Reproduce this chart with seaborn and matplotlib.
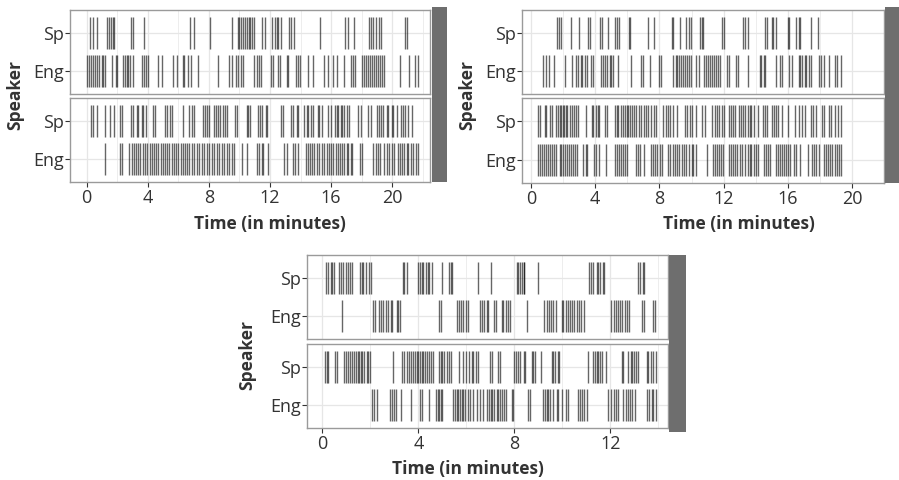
import numpy as np
import pandas as pd
import matplotlib
matplotlib.use("Agg")
import matplotlib.pyplot as plt
import seaborn as sns
from matplotlib.patches import Rectangle

sns.set_theme(style="white")
plt.rcParams["font.family"] = ["Open Sans", "DejaVu Sans"]

# ---------------- data (event times, minutes) ----------------
speakers = ["Sp", "Eng"]
x_label = "Time (in minutes)"
y_label = "Speaker"
ticks_1 = [0, 4, 8, 12, 16, 20]
ticks_2 = [0, 4, 8, 12, 16, 20]
ticks_3 = [0, 4, 8, 12]

s1_top_sp = [0.25, 0.4, 0.65, 1.35, 1.47, 1.6, 1.7, 1.8, 2.88, 3.05, 3.77, 6.75, 7.0, 8.1, 9.5, 9.9, 10.0, 10.1,
             10.2, 10.35, 10.5, 10.6, 10.7, 10.85, 10.95, 11.5, 11.7, 12.15, 12.3, 12.45, 12.55, 12.75, 13.25,
             13.4, 13.6, 15.3, 16.9, 17.1, 17.5, 18.45, 18.6, 18.75, 18.95, 19.1, 19.25, 20.85, 20.95]
s1_top_eng = [0.05, 0.17, 0.3, 0.43, 0.56, 0.7, 0.83, 0.98, 1.1, 1.22, 1.63, 1.9, 2.0, 2.4, 2.5, 2.62, 2.72, 2.83,
              3.05, 3.6, 3.75, 3.88, 4.03, 4.7, 4.9, 5.67, 5.9, 6.28, 6.4, 6.65, 6.8, 7.3, 8.6, 9.32, 9.5, 9.8,
              9.92, 10.08, 10.25, 10.97, 11.12, 11.28, 11.4, 12.06, 12.22, 12.54, 12.65, 13.1, 13.2, 13.68, 13.85,
              13.96, 14.5, 14.83, 15.53, 15.77, 16.14, 16.36, 16.86, 17.3, 17.45, 17.56, 18.04, 18.17, 18.3, 18.43,
              18.56, 18.69, 18.83, 18.96, 19.09, 19.22, 19.35, 19.48, 20.5, 21.12, 21.5, 21.7]
s1_bot_sp = [0.26, 0.39, 0.65, 1.2, 1.52, 1.79, 2.18, 2.29, 2.9, 3.05, 3.27, 3.38, 3.6, 3.71, 3.88, 4.36, 4.47,
             5.12, 5.28, 5.45, 5.58, 6.28, 6.72, 6.87, 7.02, 7.59, 7.74, 7.85, 8.03, 8.33, 8.46, 8.62, 8.72, 8.9,
             9.05, 9.2, 9.7, 9.81, 10.47, 10.58, 10.69, 11.19, 11.34, 11.49, 11.71, 11.82, 12.72, 12.87, 13.37,
             13.52, 13.74, 13.85, 14.24, 14.4, 14.5, 14.68, 14.83, 15.12, 15.2, 15.38, 15.81, 15.99, 16.25, 16.36,
             16.47, 16.64, 16.73, 16.86, 17.01, 17.17, 17.78, 17.95, 18.43, 18.61, 18.98, 19.13, 19.26, 19.41,
             19.63, 19.74, 19.96, 20.07, 20.29, 20.57, 20.72, 20.83, 21.05, 21.27]
s1_bot_eng = [1.2, 2.18, 2.29, 2.79, 2.94, 3.09, 3.22, 3.38, 3.49, 3.66, 3.82, 3.97, 4.14, 4.25, 4.4, 4.54, 4.69,
              4.84, 4.97, 5.12, 5.28, 5.41, 5.56, 5.71, 5.84, 6.0, 6.15, 6.28, 6.43, 6.59, 6.72, 6.87, 7.02, 7.2,
              7.37, 7.52, 7.68, 7.85, 8.03, 8.18, 8.33, 8.51, 8.68, 8.83, 8.99, 9.16, 9.33, 9.49, 9.64, 10.14,
              10.47, 11.12, 11.28, 11.45, 11.56, 11.84, 12.93, 13.09, 13.52, 13.63, 13.81, 14.33, 14.46, 14.61,
              14.72, 14.9, 15.05, 15.2, 15.42, 15.55, 15.7, 15.86, 15.99, 16.14, 16.29, 16.42, 16.58, 16.73,
              16.86, 17.01, 17.12, 17.3, 17.38, 17.89, 18.04, 18.76, 18.91, 19.04, 19.2, 19.48, 19.63, 19.78,
              19.96, 20.13, 20.35, 20.5, 20.66, 20.79, 20.94, 21.05, 21.22, 21.38, 21.53, 21.66]

s2_top_sp = [1.62, 1.74, 1.87, 2.5, 3.01, 3.53, 3.64, 4.29, 4.4, 4.82, 5.2, 5.35, 5.49, 6.12, 6.19, 7.26, 7.64,
             8.78, 8.86, 9.3, 9.68, 9.87, 9.96, 10.53, 10.63, 10.72, 11.9, 12.02, 13.2, 13.35, 13.54, 14.57,
             14.72, 15.0, 15.1, 15.26, 16.02, 16.09, 16.53, 16.67, 16.78, 17.43, 17.87]
s2_top_eng = [0.73, 0.92, 1.11, 1.43, 2.12, 2.57, 2.82, 2.95, 3.11, 3.2, 3.34, 3.49, 3.72, 3.87, 4.34, 4.48, 4.59,
              4.72, 4.91, 5.01, 5.11, 5.43, 6.25, 6.82, 6.96, 7.39, 7.97, 8.1, 8.86, 9.01, 9.11, 9.2, 9.35, 9.49,
              9.58, 9.74, 9.87, 9.96, 10.25, 10.44, 10.76, 10.88, 11.01, 11.14, 11.26, 11.39, 11.53, 11.64, 11.77,
              12.21, 12.34, 12.78, 12.92, 13.49, 14.25, 14.35, 14.5, 14.57, 15.26, 15.49, 15.64, 16.09, 16.25,
              16.67, 16.78, 16.91, 17.05, 17.16, 17.3, 17.43, 17.93, 18.06, 18.25, 18.54, 18.92, 19.07, 19.33]
s2_bot_sp = [0.44, 0.54, 0.86, 0.92, 1.2, 1.3, 1.58, 1.68, 1.77, 1.87, 1.96, 2.06, 2.15, 2.25, 2.44, 2.53, 2.69,
             2.82, 2.95, 3.45, 3.77, 3.87, 4.02, 4.15, 4.25, 4.63, 4.72, 5.24, 5.35, 5.43, 5.58, 5.73, 5.87, 5.96,
             6.06, 6.19, 6.31, 6.44, 6.53, 6.72, 6.82, 7.01, 7.14, 7.3, 7.49, 7.64, 7.77, 8.25, 8.4, 8.53, 8.63,
             8.82, 9.11, 9.58, 9.74, 9.93, 10.06, 10.25, 10.63, 10.82, 11.3, 11.45, 11.58, 11.71, 11.87, 12.02,
             12.34, 12.44, 12.59, 12.72, 12.97, 13.11, 13.24, 13.35, 13.49, 13.62, 13.73, 13.87, 14.15, 14.44,
             14.57, 14.72, 15.0, 15.14, 15.29, 15.39, 15.64, 16.02, 16.48, 16.67, 16.86, 17.05, 17.43, 17.58,
             17.73, 18.12, 18.25, 18.54, 18.69, 18.92, 19.11, 19.33]
s2_bot_eng = [0.44, 0.55, 0.67, 0.78, 0.92, 1.05, 1.16, 1.3, 1.43, 1.55, 1.77, 1.89, 2.0, 2.12, 2.25, 2.38, 2.5,
              2.63, 2.76, 2.88, 3.26, 3.39, 3.49, 3.91, 4.02, 4.21, 4.67, 5.24, 5.35, 5.49, 5.62, 5.73, 5.87, 5.96,
              6.53, 6.65, 6.76, 7.01, 7.45, 7.58, 7.72, 7.87, 8.02, 8.15, 8.53, 8.67, 8.82, 8.97, 9.11, 9.24, 9.39,
              9.55, 9.68, 9.87, 10.0, 10.12, 10.25, 10.95, 11.33, 11.45, 11.58, 11.71, 11.83, 11.96, 12.34, 12.48,
              12.59, 12.72, 12.86, 13.01, 13.16, 13.35, 13.49, 13.62, 13.73, 13.87, 14.0, 14.15, 14.5, 14.63,
              14.76, 14.91, 15.29, 15.39, 15.52, 15.64, 15.77, 15.91, 16.02, 16.15, 16.4, 16.53, 16.78, 17.24,
              17.49, 17.62, 17.77, 17.93, 18.25, 18.38, 18.5, 18.63, 18.77, 18.92, 19.07, 19.2, 19.33]

s3_top_sp = [0.14, 0.22, 0.36, 0.42, 0.5, 0.7, 0.78, 0.84, 0.97, 1.06, 1.15, 1.22, 1.57, 1.64, 1.71, 1.81, 1.95,
             2.03, 3.34, 3.42, 3.52, 4.0, 4.07, 4.14, 4.21, 4.31, 4.39, 4.45, 4.56, 4.97, 5.28, 5.36, 5.42, 6.47,
             7.04, 8.1, 8.17, 8.24, 8.31, 8.38, 8.42, 8.97, 11.11, 11.19, 11.29, 11.43, 11.5, 11.57, 11.71, 11.75,
             13.14, 13.24, 13.34, 13.42]
s3_top_eng = [0.81, 2.13, 2.2, 2.36, 2.45, 2.54, 2.64, 2.72, 2.86, 2.92, 3.1, 3.17, 3.24, 4.86, 4.95, 5.6, 5.7,
              5.78, 5.88, 5.97, 6.06, 6.57, 6.64, 6.75, 6.85, 6.92, 7.17, 7.22, 7.47, 7.54, 7.64, 7.75, 7.82, 8.51,
              9.25, 9.35, 9.45, 9.53, 9.62, 9.72, 9.97, 10.04, 10.14, 10.22, 10.32, 10.42, 10.5, 10.6, 10.7, 10.78,
              10.88, 12.03, 12.13, 12.22, 12.31, 12.4, 12.5, 12.61, 12.68, 12.78, 13.3, 13.42, 13.79, 13.86]
s3_bot_sp = [0.09, 0.18, 0.25, 0.53, 0.6, 0.92, 0.97, 1.06, 1.15, 1.22, 1.33, 1.39, 1.47, 1.53, 1.61, 1.67, 1.75,
             1.85, 1.92, 1.99, 2.96, 3.33, 3.42, 3.52, 3.61, 3.7, 3.79, 3.86, 3.93, 4.0, 4.07, 4.14, 4.21, 4.28,
             4.35, 4.45, 4.53, 4.63, 4.86, 4.95, 5.0, 5.08, 5.18, 5.28, 5.36, 5.7, 5.88, 5.97, 6.11, 6.22, 6.29,
             6.39, 6.47, 6.99, 7.08, 7.33, 7.4, 8.0, 8.06, 8.17, 8.24, 8.38, 8.45, 8.72, 8.79, 8.86, 9.11, 9.56,
             9.62, 9.69, 9.81, 9.86, 11.06, 11.29, 11.36, 11.43, 11.5, 11.57, 11.64, 11.81, 12.47, 12.54, 12.75,
             12.86, 12.92, 13.0, 13.06, 13.14, 13.52, 13.58, 13.7, 13.79, 13.89]
s3_bot_eng = [2.08, 2.17, 2.27, 2.82, 2.92, 3.0, 3.06, 3.28, 3.7, 4.07, 4.17, 4.45, 4.72, 4.81, 4.86, 4.95, 5.0,
              5.46, 5.53, 5.6, 5.67, 5.74, 5.81, 5.88, 5.95, 6.06, 6.15, 6.29, 6.43, 6.57, 6.71, 6.85, 6.94, 7.03,
              7.08, 7.17, 7.26, 7.33, 7.4, 7.5, 7.58, 7.64, 7.89, 7.96, 8.58, 8.65, 9.21, 9.28, 9.35, 9.42, 9.49,
              9.62, 9.76, 9.83, 9.97, 10.14, 10.22, 10.64, 10.74, 10.83, 10.92, 11.01, 11.92, 12.03, 12.13, 12.22,
              12.31, 12.54, 12.64, 12.72, 12.82, 12.89, 13.03, 13.52, 13.61, 13.72, 13.79, 13.89]

# ---------------- layout (pixels) ----------------
W, H = 899, 480
fig = plt.figure(figsize=(W / 100, H / 100), dpi=100)

TXT = "#333333"
GRID = "#e6e6e6"
FRAME = "#9a9a9a"
STRIP = "#6e6e6e"


def px_axes(x0, y0, x1, y1):
    return fig.add_axes([x0 / W, 1 - y1 / H, (x1 - x0) / W, (y1 - y0) / H])


panels = [
    dict(facets=[(s1_top_sp, s1_top_eng), (s1_bot_sp, s1_bot_eng)], x=(70, 430),
         ys=[(10, 94), (98, 182)], xlim=(-1.09, 22.47), ticks=ticks_1,
         strip=(432, 447, 7, 182), ylab=(15, 95), xlab=(270, 224)),
    dict(facets=[(s2_top_sp, s2_top_eng), (s2_bot_sp, s2_bot_eng)], x=(522, 884),
         ys=[(10, 94), (98, 183)], xlim=(-0.57, 20.1), ticks=ticks_2,
         strip=(885, 899, 7, 183), ylab=(467, 95), xlab=(739, 224)),
    dict(facets=[(s3_top_sp, s3_top_eng), (s3_bot_sp, s3_bot_eng)], x=(307, 668),
         ys=[(255, 339), (344, 428)], xlim=(-0.64, 14.4), ticks=ticks_3,
         strip=(669, 686, 255, 432), ylab=(247, 355), xlab=(468, 469)),
]

ypos = {"Sp": 2, "Eng": 1}

for p in panels:
    for i, (sp, eng) in enumerate(p["facets"]):
        y0, y1 = p["ys"][i]
        ax = px_axes(p["x"][0], y0, p["x"][1], y1)
        df = pd.DataFrame({
            "time": list(sp) + list(eng),
            "speaker": ["Sp"] * len(sp) + ["Eng"] * len(eng),
        })
        df["y"] = df["speaker"].map(ypos)
        ax.set_axisbelow(True)
        sns.scatterplot(data=df, x="time", y="y", marker="|", s=23 ** 2, linewidth=1.0,
                        color="black", alpha=0.6, ax=ax, legend=False)
        ax.set_xlim(*p["xlim"])
        ax.set_ylim(0.4, 2.6)
        ax.set_yticks([ypos[s] for s in speakers])
        ax.set_yticklabels(speakers)
        ax.set_xticks(p["ticks"])
        ax.set_xticks([t + 2 for t in p["ticks"]], minor=True)
        ax.grid(True, which="major", color=GRID, linewidth=0.9)
        ax.grid(True, which="minor", axis="x", color=GRID, linewidth=0.5)
        ax.set_xlabel("")
        ax.set_ylabel("")
        for s in ax.spines.values():
            s.set_color(FRAME)
            s.set_linewidth(1.0)
        ax.tick_params(axis="y", which="major", left=True, length=3.5, width=0.8, color=TXT,
                       labelsize=13, labelcolor=TXT, pad=1)
        ax.tick_params(axis="x", which="minor", bottom=False)
        if i == 0:
            ax.tick_params(axis="x", which="major", bottom=False, labelbottom=False)
        else:
            ax.tick_params(axis="x", which="major", bottom=True, length=3.5, width=0.8, color=TXT,
                           labelsize=13, labelcolor=TXT, pad=1.5)
    # strip
    sx0, sx1, sy0, sy1 = p["strip"]
    fig.patches.append(Rectangle((sx0 / W, 1 - sy1 / H), (sx1 - sx0) / W, (sy1 - sy0) / H,
                                 transform=fig.transFigure, facecolor=STRIP, edgecolor="none"))
    fig.text(p["ylab"][0] / W, 1 - p["ylab"][1] / H, y_label, rotation=90, ha="center", va="center",
             fontsize=12.5, fontweight="bold", color=TXT)
    fig.text(p["xlab"][0] / W, 1 - p["xlab"][1] / H, x_label, ha="center", va="center",
             fontsize=12.5, fontweight="bold", color=TXT)

fig.savefig("out.png", dpi=100, facecolor="white")
